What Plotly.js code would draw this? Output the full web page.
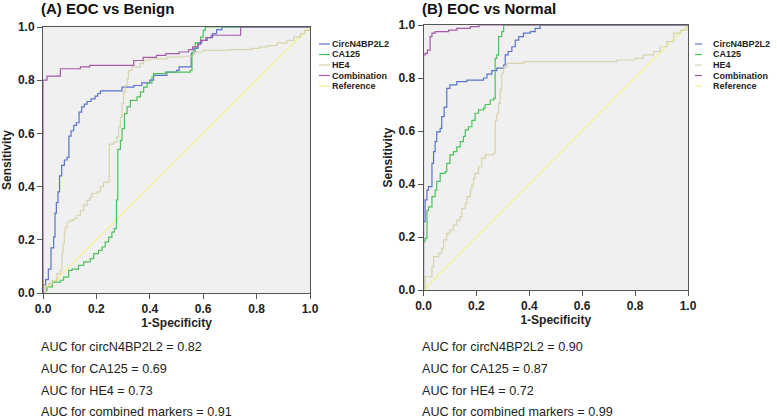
<!DOCTYPE html>
<html>
<head>
<meta charset="utf-8">
<script src="https://cdn.plot.ly/plotly-3.0.1.min.js"></script>
<style>html,body{margin:0;padding:0;background:#fff;}#chart{width:777px;height:420px;}</style>
</head>
<body>
<div id="chart"></div>
<script>
// ---------- data (step vertices: x = 1-specificity where sensitivity jumps, y = new sensitivity) ----------
const seriesNames = ["CircN4BP2L2", "CA125", "HE4", "Combination", "Reference"];
const seriesColors = ["#5a72cc", "#4cc25a", "#d8d2ac", "#a35aa8", "#f4ef8c"];

// Panel A: EOC vs Benign
const A_circ_x = [0, 0, 0.01, 0.02, 0.03, 0.04, 0.045, 0.05, 0.056, 0.062, 0.07, 0.08, 0.09, 0.097, 0.105, 0.115, 0.125, 0.135, 0.145, 0.155, 0.165, 0.18, 0.195, 0.205, 0.215, 0.296, 0.34, 0.37, 0.40, 0.414, 0.464, 0.50, 0.51, 0.555, 0.565, 0.58, 0.595, 0.615, 0.635, 0.65, 0.67, 1.0];
const A_circ_y = [0, 0.03, 0.05, 0.09, 0.17, 0.21, 0.30, 0.34, 0.38, 0.44, 0.48, 0.50, 0.51, 0.59, 0.61, 0.63, 0.64, 0.68, 0.70, 0.71, 0.72, 0.73, 0.74, 0.75, 0.76, 0.774, 0.78, 0.79, 0.80, 0.818, 0.83, 0.837, 0.85, 0.90, 0.92, 0.94, 0.95, 0.96, 0.975, 0.99, 1.0, 1.0];

const A_ca125_x = [0, 0.01, 0.015, 0.035, 0.065, 0.077, 0.096, 0.109, 0.133, 0.152, 0.177, 0.19, 0.208, 0.221, 0.233, 0.246, 0.258, 0.267, 0.275, 0.28, 0.29, 0.296, 0.305, 0.315, 0.327, 0.352, 0.365, 0.377, 0.39, 0.408, 0.414, 0.458, 0.552, 0.558, 0.57, 0.59, 0.60, 0.608, 1.0];
const A_ca125_y = [0, 0.01, 0.023, 0.041, 0.048, 0.06, 0.085, 0.09, 0.104, 0.117, 0.129, 0.148, 0.16, 0.173, 0.192, 0.21, 0.229, 0.242, 0.35, 0.54, 0.574, 0.618, 0.674, 0.70, 0.724, 0.737, 0.756, 0.774, 0.79, 0.812, 0.825, 0.83, 0.837, 0.906, 0.94, 0.962, 0.987, 1.0, 1.0];

const A_he4_x = [0, 0.009, 0.021, 0.034, 0.052, 0.065, 0.071, 0.075, 0.08, 0.083, 0.09, 0.102, 0.115, 0.127, 0.14, 0.152, 0.165, 0.175, 0.183, 0.202, 0.215, 0.227, 0.248, 0.265, 0.277, 0.283, 0.29, 0.296, 0.302, 0.308, 0.315, 0.32, 0.333, 0.364, 0.377, 0.40, 0.464, 0.52, 0.564, 0.60, 0.70, 0.78, 0.81, 0.84, 0.876, 0.914, 0.94, 0.964, 0.98, 1.0];
const A_he4_y = [0, 0.023, 0.035, 0.048, 0.073, 0.085, 0.148, 0.185, 0.223, 0.248, 0.267, 0.273, 0.28, 0.292, 0.31, 0.33, 0.348, 0.36, 0.374, 0.38, 0.40, 0.417, 0.56, 0.568, 0.586, 0.624, 0.66, 0.712, 0.756, 0.78, 0.806, 0.837, 0.85, 0.862, 0.875, 0.88, 0.887, 0.89, 0.906, 0.912, 0.915, 0.92, 0.925, 0.93, 0.94, 0.95, 0.962, 0.975, 0.987, 1.0];

const A_comb_x = [0, 0, 0.015, 0.065, 0.14, 0.175, 0.34, 0.375, 0.425, 0.46, 0.51, 0.545, 0.56, 0.58, 0.59, 0.61, 0.63, 0.74, 1.0];
const A_comb_y = [0, 0.80, 0.815, 0.843, 0.85, 0.856, 0.874, 0.886, 0.893, 0.90, 0.906, 0.915, 0.925, 0.935, 0.95, 0.96, 0.969, 1.0, 1.0];

// Panel B: EOC vs Normal
const B_circ_x = [0, 0, 0.006, 0.013, 0.019, 0.032, 0.038, 0.044, 0.05, 0.063, 0.069, 0.078, 0.088, 0.10, 0.126, 0.164, 0.227, 0.24, 0.258, 0.277, 0.303, 0.309, 0.32, 0.334, 0.347, 0.36, 0.378, 0.404, 0.422, 0.441, 1.0];
const B_circ_y = [0, 0.258, 0.34, 0.377, 0.39, 0.478, 0.522, 0.56, 0.597, 0.61, 0.654, 0.69, 0.761, 0.774, 0.786, 0.792, 0.80, 0.815, 0.828, 0.837, 0.849, 0.887, 0.90, 0.918, 0.943, 0.956, 0.969, 0.975, 0.987, 1.0, 1.0];

const B_ca125_x = [0, 0, 0.006, 0.013, 0.019, 0.032, 0.044, 0.05, 0.063, 0.082, 0.088, 0.10, 0.113, 0.126, 0.139, 0.151, 0.158, 0.17, 0.183, 0.195, 0.208, 0.227, 0.233, 0.252, 0.265, 0.271, 0.277, 0.284, 0.296, 0.303, 1.0];
const B_ca125_y = [0, 0.182, 0.195, 0.30, 0.314, 0.352, 0.377, 0.41, 0.44, 0.447, 0.478, 0.51, 0.522, 0.54, 0.56, 0.58, 0.604, 0.616, 0.64, 0.667, 0.68, 0.686, 0.70, 0.717, 0.723, 0.874, 0.887, 0.956, 0.975, 1.0, 1.0];

const B_he4_x = [0, 0, 0.006, 0.032, 0.038, 0.057, 0.069, 0.076, 0.088, 0.10, 0.113, 0.126, 0.139, 0.145, 0.158, 0.164, 0.177, 0.183, 0.189, 0.195, 0.208, 0.22, 0.233, 0.265, 0.271, 0.277, 0.284, 0.29, 0.296, 0.303, 0.315, 0.38, 0.73, 0.80, 0.832, 0.87, 0.895, 0.92, 0.946, 0.971, 0.996, 1.0];
const B_he4_y = [0, 0.006, 0.05, 0.088, 0.126, 0.138, 0.157, 0.189, 0.214, 0.226, 0.245, 0.264, 0.277, 0.308, 0.327, 0.352, 0.377, 0.396, 0.421, 0.44, 0.465, 0.497, 0.51, 0.516, 0.64, 0.667, 0.704, 0.755, 0.818, 0.84, 0.855, 0.862, 0.868, 0.874, 0.887, 0.90, 0.918, 0.937, 0.969, 0.981, 0.994, 1.0];

const B_comb_x = [0, 0, 0.006, 0.015, 0.025, 0.032, 0.044, 0.095, 0.126, 0.177, 0.21, 1.0];
const B_comb_y = [0, 0.887, 0.893, 0.905, 0.956, 0.969, 0.975, 0.981, 0.987, 0.994, 1.0, 1.0];

const ref_x = [0, 1];
const ref_y = [0, 1];

const tickVals = [0, 0.2, 0.4, 0.6, 0.8, 1.0];
const tickText = ["0.0", "0.2", "0.4", "0.6", "0.8", "1.0"];

const panelTitles = ["(A) EOC vs Benign", "(B) EOC vs Normal"];
const xTitle = "1-Specificity";
const yTitle = "Sensitivity";
const aucA = ["AUC for circN4BP2L2 = 0.82", "AUC for CA125 = 0.69", "AUC for HE4 = 0.73", "AUC for combined markers = 0.91"];
const aucB = ["AUC for circN4BP2L2 = 0.90", "AUC for CA125 = 0.87", "AUC for HE4 = 0.72", "AUC for combined markers = 0.99"];

// ---------- build ----------
const W = 777, H = 420;
const px = v => v / W;
const py = v => 1 - v / H;
const FONT = "Liberation Sans, Arial, Helvetica, sans-serif";

const panels = [
  {xa: "x", ya: "y", series: [[A_circ_x, A_circ_y], [A_ca125_x, A_ca125_y], [A_he4_x, A_he4_y], [A_comb_x, A_comb_y], [ref_x, ref_y]]},
  {xa: "x2", ya: "y2", series: [[B_circ_x, B_circ_y], [B_ca125_x, B_ca125_y], [B_he4_x, B_he4_y], [B_comb_x, B_comb_y], [ref_x, ref_y]]}
];

const traces = [];
panels.forEach(p => {
  const order = [4, 0, 1, 2, 3];
  order.forEach(i => {
    const s = p.series[i];
    traces.push({
      type: "scatter", mode: "lines", x: s[0], y: s[1],
      xaxis: p.xa, yaxis: p.ya, name: seriesNames[i],
      line: {color: seriesColors[i], width: 1.2, shape: i === 4 ? "linear" : "hv"},
      showlegend: false, hoverinfo: "skip"
    });
  });
});

function axisCommon(domain, isY) {
  return {
    domain: domain, range: [0, 1], tickvals: tickVals, ticktext: tickText,
    showgrid: false, zeroline: false, showline: true, mirror: true,
    linecolor: "#555", linewidth: 1, ticks: "outside", ticklen: 5, tickcolor: "#555",
    tickfont: {family: FONT, size: 12, color: "#222", weight: "bold"},
    fixedrange: true, automargin: false,
    title: {text: isY ? yTitle : xTitle, font: {family: FONT, size: 12, color: "#222", weight: "bold"}, standoff: isY ? 6 : 2}
  };
}

const layout = {
  width: W, height: H,
  margin: {l: 0, r: 0, t: 0, b: 0},
  paper_bgcolor: "#ffffff", plot_bgcolor: "#f0f0f0",
  showlegend: false,
  xaxis: Object.assign(axisCommon([px(43), px(310)], false), {anchor: "y"}),
  yaxis: Object.assign(axisCommon([py(293), py(27)], true), {anchor: "x"}),
  xaxis2: Object.assign(axisCommon([px(423.5), px(688)], false), {anchor: "y2"}),
  yaxis2: Object.assign(axisCommon([py(290), py(25)], true), {anchor: "x2"}),
  annotations: [], shapes: []
};
layout.yaxis2.title.standoff = 3;

// panel titles
[[40, 8], [421, 8]].forEach((pos, k) => {
  layout.annotations.push({xref: "paper", yref: "paper", x: px(pos[0]), y: py(pos[1]), xanchor: "left", yanchor: "middle",
    text: "<b>" + panelTitles[k] + "</b>", showarrow: false, font: {family: FONT, size: 15, color: "#111"}, borderpad: 0});
});

// manual legends (compact, like the original)
const legRows = [44, 54.5, 65, 75.5, 86];
const legendSpecs = [{lx0: 319, lx1: 330, tx: 331}, {lx0: 695, lx1: 702, tx: 712}];
legendSpecs.forEach(spec => {
  seriesNames.forEach((nm, i) => {
    layout.shapes.push({type: "line", xref: "paper", yref: "paper", x0: px(spec.lx0), x1: px(spec.lx1), y0: py(legRows[i]), y1: py(legRows[i]),
      line: {color: seriesColors[i], width: 1.2}});
    layout.annotations.push({xref: "paper", yref: "paper", x: px(spec.tx), y: py(legRows[i]), xanchor: "left", yanchor: "middle",
      text: "<b>" + nm + "</b>", showarrow: false, font: {family: FONT, size: 9, color: "#222"}, borderpad: 0});
  });
});

// AUC text
const aucRows = [347, 369, 391, 412];
[[40, aucA], [421, aucB]].forEach(set => {
  set[1].forEach((t, i) => {
    layout.annotations.push({xref: "paper", yref: "paper", x: px(set[0]), y: py(aucRows[i]), xanchor: "left", yanchor: "middle",
      text: t, showarrow: false, font: {family: FONT, size: 12.6, color: "#222"}, borderpad: 0});
  });
});

Plotly.newPlot("chart", traces, layout, {staticPlot: true, displayModeBar: false});
</script>
</body>
</html>
